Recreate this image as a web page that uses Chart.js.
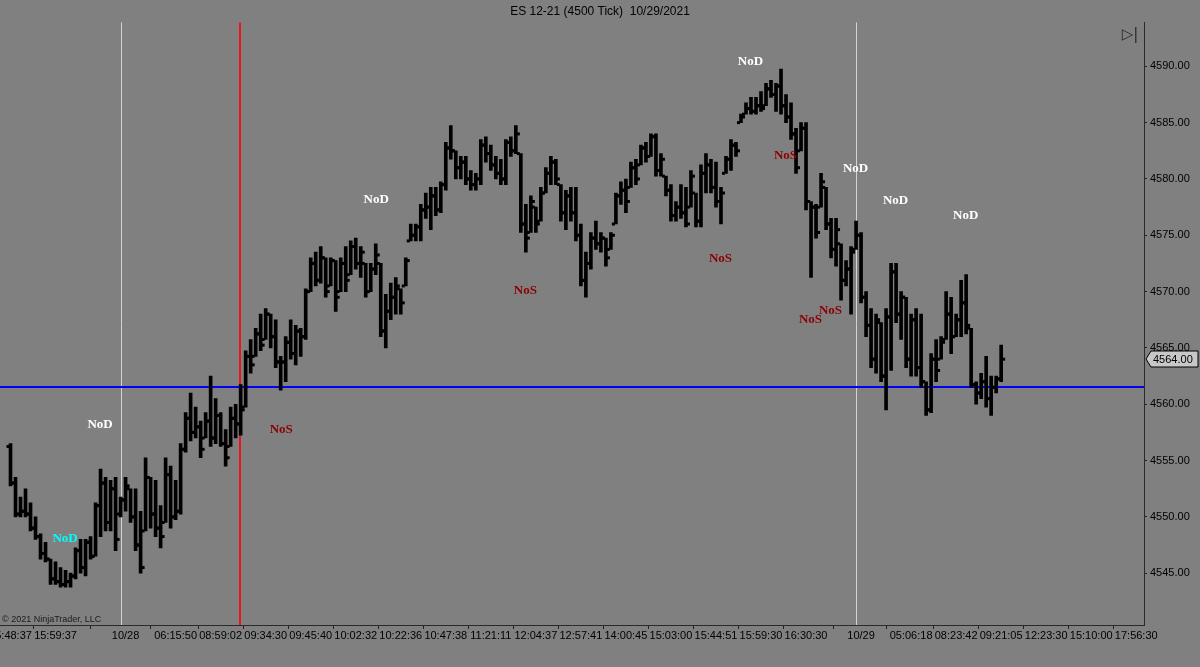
<!DOCTYPE html>
<html>
<head>
<meta charset="utf-8">
<title>ES 12-21 (4500 Tick)</title>
<script src="https://cdn.jsdelivr.net/npm/chart.js@4/dist/chart.umd.min.js"></script>
<style>
    html, body { margin: 0; padding: 0; background: #808080; }
    #wrap { width: 1200px; height: 667px; }
</style>
</head>
<body>
<div id="wrap"><canvas id="esChart" width="1200" height="667"></canvas></div>
<script>
// OHLC bars, one per 4500 ticks
const highs = [
    4556.5, 4553.5, 4551.75, 4552.5, 4551.25, 4550, 4548.5, 4547.75, 4546.25, 4546,
    4545.5, 4545.25, 4545, 4547.25, 4548, 4548, 4548.25, 4551.25, 4554.25, 4553.5,
    4553.25, 4553.5, 4551.75, 4553.5, 4552.5, 4552.5, 4550.5, 4555.25, 4553.5, 4553.25,
    4551, 4555.25, 4554.5, 4553.25, 4556.5, 4559.25, 4561, 4559.75, 4558.5, 4559.25,
    4562.5, 4560.5, 4559.25, 4557.75, 4559.75, 4560, 4561.75, 4564.75, 4565.75, 4566.75,
    4568, 4568.5, 4568, 4567.5, 4564.25, 4566, 4567.5, 4567, 4566.75, 4570.25,
    4573, 4573.5, 4574, 4573, 4573, 4572.75, 4573, 4574, 4574.5, 4574.75,
    4574, 4572.5, 4572.5, 4574.25, 4572.5, 4569.75, 4570.75, 4571.25, 4570.25, 4573,
    4576, 4576, 4577.75, 4578.75, 4579.25, 4579.25, 4579.75, 4583.25, 4584.75, 4582.5,
    4582, 4582, 4580.75, 4580.5, 4583.5, 4583.75, 4583, 4582, 4581.75, 4583.5,
    4583.75, 4584.75, 4582.25, 4577.75, 4578.5, 4577.5, 4579.25, 4581, 4582, 4581.75,
    4579.5, 4579, 4579.25, 4579.25, 4576, 4573.5, 4575.25, 4576.25, 4575.25, 4574.75,
    4575.25, 4578.75, 4579.75, 4580, 4581.5, 4581.75, 4583, 4583.25, 4584, 4584,
    4582.25, 4580.25, 4579.5, 4578, 4579.5, 4579.25, 4580.75, 4578.75, 4581.25, 4582.25,
    4581.75, 4581.5, 4579.25, 4582, 4583.5, 4583.25, 4585.75, 4586.75, 4587.25, 4587.25,
    4587.75, 4588.5, 4588.75, 4588.5, 4589.75, 4587.5, 4586.75, 4584.5, 4585, 4585,
    4578, 4577.75, 4580.5, 4579.25, 4576.5, 4576.5, 4574.25, 4572.75, 4574, 4576.25,
    4575.25, 4570, 4568.5, 4568, 4567.25, 4568.5, 4572.5, 4572.5, 4570, 4569.5,
    4568, 4568.5, 4568, 4562, 4564.5, 4565.75, 4566, 4570, 4569.5, 4568,
    4571, 4571.5, 4566.75, 4562, 4562.75, 4564.25, 4562.5, 4562.5, 4565.25
];
const lows = [
    4552.75, 4550, 4550, 4550, 4548.75, 4548, 4546.25, 4546, 4544, 4544,
    4543.75, 4543.75, 4543.75, 4544.5, 4545, 4544.75, 4546.25, 4546.5, 4548.25, 4548.75,
    4548.75, 4547, 4550, 4550.5, 4549.5, 4547, 4545, 4548.75, 4549, 4548.25,
    4547.25, 4549.5, 4549, 4549.75, 4550.25, 4555.75, 4556.75, 4557, 4555.25, 4557,
    4556.25, 4556.5, 4556.25, 4554.5, 4556.25, 4557, 4557.25, 4559.75, 4562.75, 4564.25,
    4564.75, 4565.75, 4565, 4563.25, 4561.25, 4562, 4564, 4563.5, 4564.25, 4565.75,
    4570, 4570.5, 4570.75, 4569.5, 4570.5, 4568.25, 4570, 4570, 4571.5, 4572,
    4571.25, 4569.5, 4570, 4571.5, 4566, 4565, 4567.5, 4568, 4568, 4570.5,
    4574.5, 4574.5, 4574.5, 4576.5, 4575.5, 4576.75, 4577, 4579, 4581.75, 4580,
    4580, 4579.5, 4579, 4579, 4579.5, 4581.5, 4580.75, 4580, 4579.5, 4579.5,
    4582, 4582.25, 4575.25, 4573.5, 4575.25, 4575.25, 4576.25, 4578.75, 4579.5, 4579.5,
    4576.25, 4575.5, 4576.25, 4574.5, 4570.5, 4569.5, 4572, 4573.75, 4573.5, 4572.25,
    4573.75, 4576, 4577.75, 4577, 4579.25, 4579.5, 4581.25, 4581.5, 4582, 4580.25,
    4580.25, 4578.5, 4576.25, 4576.25, 4576.5, 4575.75, 4577.5, 4575.75, 4575.75, 4578.75,
    4578.75, 4577.5, 4576, 4580.5, 4580.75, 4582, 4585, 4585.75, 4585.75, 4585.75,
    4586, 4586.5, 4587.25, 4586, 4585.75, 4585, 4583.5, 4580.5, 4582.5, 4577.25,
    4571.25, 4574.75, 4577.5, 4575.5, 4573, 4572.25, 4569.25, 4570.5, 4568, 4573.75,
    4569, 4566, 4563.25, 4562.75, 4562, 4559.5, 4563, 4567.25, 4565.75, 4563.25,
    4562.5, 4562.5, 4561.5, 4559, 4559.25, 4562, 4564, 4565.75, 4564.5, 4566,
    4566, 4566.25, 4561.5, 4560, 4560.5, 4559.75, 4559, 4561, 4562
];
const opens = [
    4556.25, 4553, 4550.25, 4550.5, 4550.25, 4549, 4548.25, 4546.75, 4546.25, 4544.5,
    4544.25, 4544, 4544.25, 4544.75, 4547, 4545.5, 4547.75, 4546.5, 4551, 4553,
    4549.5, 4552.5, 4550.25, 4551.5, 4552.5, 4550, 4547.5, 4548.75, 4553.5, 4550.25,
    4549, 4549.5, 4553.75, 4550, 4550.5, 4556, 4558.75, 4557.5, 4558, 4557,
    4558.5, 4557, 4559, 4556.5, 4556.25, 4558.75, 4558.25, 4559.75, 4564.25, 4564.25,
    4566.25, 4565.75, 4568, 4566, 4563.75, 4563.75, 4565.5, 4564.5, 4566.5, 4566,
    4570, 4572.5, 4571, 4573, 4570.5, 4572.75, 4570, 4572.5, 4571.5, 4574,
    4572.5, 4572.5, 4570, 4572, 4572.5, 4566.5, 4568.25, 4569.5, 4570.25, 4570.5,
    4574.5, 4575, 4575.75, 4577.25, 4577.5, 4578.5, 4577.25, 4579.5, 4582.75, 4582.5,
    4581, 4581.5, 4580, 4579.5, 4580, 4583, 4582.25, 4581.25, 4580.5, 4580,
    4583.25, 4582.5, 4582.25, 4576, 4575.25, 4577.5, 4576.25, 4578.75, 4580.5, 4581.5,
    4579.5, 4577, 4578.5, 4577, 4575, 4571, 4572.5, 4574.75, 4574.25, 4574.75,
    4573.75, 4576, 4578.5, 4579, 4579.25, 4581, 4581.25, 4582.75, 4582, 4583.75,
    4580.75, 4580.25, 4579, 4576.75, 4577.5, 4577, 4577.5, 4578.75, 4576.25, 4580.5,
    4581.25, 4579.25, 4578, 4580.5, 4581.75, 4583, 4585, 4585.75, 4586.25, 4586,
    4586.5, 4586.5, 4588, 4587.5, 4588.25, 4586.5, 4585.5, 4584, 4582.5, 4584.5,
    4578, 4577.5, 4577.5, 4579.25, 4576, 4573.75, 4574.25, 4571, 4572, 4573.75,
    4575, 4569.5, 4567, 4564, 4567.25, 4562.5, 4567.75, 4571.75, 4568, 4569.5,
    4564, 4567.5, 4563.25, 4562, 4559.5, 4564, 4564, 4565.75, 4568, 4566,
    4567.5, 4569, 4566.75, 4561.75, 4561, 4562, 4560.5, 4561.5, 4562.25
];
const closes = [
    4553, 4550.25, 4550.5, 4550.25, 4549, 4548.25, 4546.75, 4546.25, 4544.5, 4544.25,
    4544, 4544.25, 4544.75, 4547, 4545.5, 4547.75, 4546.5, 4551, 4553, 4549.5,
    4552.5, 4548, 4551.5, 4552.75, 4550, 4547.5, 4545.5, 4553.5, 4550.25, 4549,
    4548.25, 4553.75, 4550, 4550.5, 4556, 4558.75, 4557.5, 4558, 4556, 4558.5,
    4557, 4559, 4556.5, 4555.25, 4558.75, 4558.25, 4559.5, 4564.25, 4563.5, 4566.25,
    4565.25, 4568, 4566, 4563.75, 4563.75, 4565.5, 4564.5, 4566.5, 4566, 4570,
    4572.5, 4571, 4573, 4570, 4572.75, 4569.5, 4572.5, 4571, 4574, 4572.5,
    4573.5, 4570, 4572, 4573.25, 4566.5, 4568.25, 4569.5, 4570.5, 4569, 4572.75,
    4575, 4575.75, 4577.25, 4577.5, 4578.5, 4577.25, 4579.5, 4582.75, 4582.5, 4581,
    4581.5, 4580, 4579.5, 4580, 4583, 4582.25, 4581.25, 4580.5, 4580, 4583.25,
    4582.5, 4584, 4576, 4574.75, 4578, 4576, 4578.75, 4580.5, 4581.5, 4580,
    4577, 4578.5, 4577, 4575, 4571, 4572.5, 4574.75, 4574.25, 4574.75, 4573,
    4575, 4578.5, 4579, 4578, 4581, 4580, 4582.75, 4582, 4583.75, 4580.75,
    4581.75, 4579, 4576.75, 4577.5, 4577, 4576, 4580.25, 4576.25, 4580.5, 4581.25,
    4579.25, 4578, 4578.75, 4581.75, 4583, 4582.5, 4585.5, 4586.25, 4586, 4586.5,
    4586.25, 4588, 4587.5, 4588.25, 4586.5, 4585.5, 4584, 4581, 4584.5, 4578,
    4577.5, 4575.25, 4579.75, 4576, 4573.75, 4575.5, 4571, 4572, 4573.5, 4575,
    4569.5, 4567, 4564, 4567.5, 4562.5, 4567.75, 4571.75, 4568, 4569.5, 4564,
    4567.5, 4563.25, 4562, 4559.5, 4564, 4563, 4565.5, 4568, 4566, 4567.5,
    4569, 4567, 4561.75, 4561, 4562, 4560.5, 4561.5, 4562.25, 4564
];

// time axis: bar index of each label and its text
const timeTickIdx = [0, 9, 23, 33, 42, 51, 60, 69, 78, 87, 96, 105, 114, 123, 132, 141, 150, 159, 170, 180, 189, 198, 207, 216, 225];
const timeTickLabels = ["15:48:37", "15:59:37", "10/28", "06:15:50", "08:59:02", "09:34:30", "09:45:40", "10:02:32",
    "10:22:36", "10:47:38", "11:21:11", "12:04:37", "12:57:41", "14:00:45", "15:03:00", "15:44:51", "15:59:30",
    "16:30:30", "10/29", "05:06:18", "08:23:42", "09:21:05", "12:23:30", "15:10:00", "17:56:30"];
const priceTicks = [4545, 4550, 4555, 4560, 4565, 4570, 4575, 4580, 4585, 4590];

// session breaks (gray), marker line (red), level (blue)
const sessionBreaks = [22.08, 169.0];
const redLineAt = 45.87;
const blueLevel = 4561.5;

// NoD / NoS labels: bar index, price, text
const noteIdx = [10.9, 17.9, 54.1, 73.1, 102.9, 141.9, 147.9, 154.9, 168.9, 163.9, 159.9, 176.9, 190.9];
const notePrice = [4548.1, 4558.2, 4557.7, 4578.2, 4570.1, 4572.9, 4590.4, 4582.1, 4580.9, 4568.3, 4567.5, 4578.1, 4576.7];
const noteText = ["NoD", "NoD", "NoS", "NoD", "NoS", "NoS", "NoD", "NoS", "NoD", "NoS", "NoS", "NoD", "NoD"];
const noteColor = ["#00ffff", "#ffffff", "#8b0000", "#ffffff", "#8b0000", "#8b0000", "#ffffff", "#8b0000", "#ffffff", "#8b0000", "#8b0000", "#ffffff", "#ffffff"];

const lastPrice = closes[closes.length - 1];

document.addEventListener("DOMContentLoaded", function () {
    const ctx = document.getElementById("esChart").getContext("2d");
    const FONT = "'Liberation Sans', Arial, sans-serif";

    // gray background for the whole canvas
    const bgPlugin = {
        id: "bg",
        beforeDraw(chart) {
            const c = chart.ctx;
            c.save();
            c.fillStyle = "#808080";
            c.fillRect(0, 0, chart.width, chart.height);
            c.restore();
        }
    };

    // vertical session lines, red marker and blue level
    const linesPlugin = {
        id: "lines",
        beforeDatasetsDraw(chart) {
            const c = chart.ctx;
            const xs = chart.scales.x, ys = chart.scales.y;
            const a = chart.chartArea;
            c.save();
            c.strokeStyle = "#d4d4d4";
            c.lineWidth = 1;
            sessionBreaks.forEach(v => {
                const px = Math.round(xs.getPixelForValue(v)) + 0.5;
                c.beginPath();
                c.moveTo(px, a.top);
                c.lineTo(px, a.bottom);
                c.stroke();
            });
            const by = Math.round(ys.getPixelForValue(blueLevel));
            c.strokeStyle = "#0000ff";
            c.lineWidth = 2;
            c.beginPath();
            c.moveTo(a.left, by);
            c.lineTo(a.right, by);
            c.stroke();
            const rx = Math.round(xs.getPixelForValue(redLineAt));
            c.strokeStyle = "#e8151b";
            c.lineWidth = 2;
            c.beginPath();
            c.moveTo(rx, a.top);
            c.lineTo(rx, a.bottom);
            c.stroke();
            c.restore();
        }
    };

    // open tick on the left, close tick on the right of each bar
    const ohlcPlugin = {
        id: "ohlcTicks",
        afterDatasetsDraw(chart) {
            const c = chart.ctx;
            const xs = chart.scales.x, ys = chart.scales.y;
            c.save();
            c.fillStyle = "#000";
            for (let i = 0; i < opens.length; i++) {
                const px = xs.getPixelForValue(i);
                const yo = ys.getPixelForValue(opens[i]);
                const yc = ys.getPixelForValue(closes[i]);
                c.fillRect(px - 4, yo - 1.5, 3, 3);
                c.fillRect(px + 1, yc - 1.5, 3, 3);
            }
            c.restore();
        }
    };

    // NoD / NoS text and other chart furniture
    const notesPlugin = {
        id: "notes",
        afterDraw(chart) {
            const c = chart.ctx;
            const xs = chart.scales.x, ys = chart.scales.y;
            const a = chart.chartArea;
            c.save();
            c.font = "bold 13px 'Liberation Serif', 'Times New Roman', serif";
            c.textAlign = "center";
            c.textBaseline = "middle";
            noteText.forEach((t, i) => {
                c.fillStyle = noteColor[i];
                c.fillText(t, xs.getPixelForValue(noteIdx[i]), ys.getPixelForValue(notePrice[i]));
            });

            // copyright
            c.font = "9px " + FONT;
            c.textAlign = "left";
            c.textBaseline = "bottom";
            c.fillStyle = "#1a1a1a";
            c.fillText("\u00a9 2021 NinjaTrader, LLC", a.left + 2, a.bottom - 1);

            // scroll icon top right
            c.font = "15px 'DejaVu Sans', sans-serif";
            c.textAlign = "center";
            c.textBaseline = "middle";
            c.fillStyle = "#2a2a2a";
            c.fillText("\u25b7|", a.right - 14, a.top + 13);

            // last price marker on the axis
            const ly = Math.round(ys.getPixelForValue(lastPrice));
            const bx = a.right + 2;
            c.beginPath();
            c.moveTo(bx, ly);
            c.lineTo(bx + 5, ly - 8);
            c.lineTo(bx + 52, ly - 8);
            c.lineTo(bx + 52, ly + 8);
            c.lineTo(bx + 5, ly + 8);
            c.closePath();
            c.fillStyle = "#c8c8c8";
            c.fill();
            c.strokeStyle = "#000";
            c.lineWidth = 1;
            c.stroke();
            c.font = "11px " + FONT;
            c.fillStyle = "#000";
            c.textAlign = "left";
            c.fillText(lastPrice.toFixed(2), bx + 7, ly + 1);
            c.restore();
        }
    };

    const barData = highs.map((h, i) => ({ x: i, y: [lows[i], h] }));

    new Chart(ctx, {
        type: "bar",
        data: {
            datasets: [{
                label: "ES 12-21",
                data: barData,
                backgroundColor: "#000",
                borderWidth: 0,
                barThickness: 3,
                grouped: false
            }]
        },
        options: {
            responsive: false,
            animation: false,
            devicePixelRatio: 1,
            layout: { padding: 0 },
            plugins: {
                legend: { display: false },
                tooltip: { enabled: false },
                title: {
                    display: true,
                    text: "ES 12-21 (4500 Tick)  10/29/2021",
                    color: "#000",
                    font: { family: FONT, size: 12, weight: "normal" },
                    padding: { top: 4, bottom: 4 }
                }
            },
            scales: {
                x: {
                    type: "linear",
                    min: -2.1,
                    max: 226.55,
                    offset: false,
                    afterBuildTicks: (scale) => {
                        scale.ticks = timeTickIdx.map(v => ({ value: v }));
                    },
                    afterFit: (scale) => {
                        scale.height = 42;
                        scale.paddingLeft = 0;
                        scale.paddingRight = 0;
                    },
                    ticks: {
                        autoSkip: false,
                        maxRotation: 0,
                        minRotation: 0,
                        padding: 0,
                        color: "#000",
                        font: { family: FONT, size: 11 },
                        callback: (value, index) => timeTickLabels[index]
                    },
                    grid: { drawOnChartArea: false, drawTicks: true, tickLength: 4, color: "#222" },
                    border: { color: "#2a2a2a" }
                },
                y: {
                    position: "right",
                    min: 4540.4,
                    max: 4593.9,
                    afterBuildTicks: (scale) => {
                        scale.ticks = priceTicks.map(v => ({ value: v }));
                    },
                    afterFit: (scale) => {
                        scale.width = 56;
                        scale.paddingTop = 0;
                        scale.paddingBottom = 0;
                    },
                    ticks: {
                        padding: 3,
                        color: "#000",
                        font: { family: FONT, size: 11 },
                        callback: (value) => Number(value).toFixed(2)
                    },
                    grid: { drawOnChartArea: false, drawTicks: true, tickLength: 3, color: "#222" },
                    border: { color: "#2a2a2a" }
                }
            }
        },
        plugins: [bgPlugin, linesPlugin, ohlcPlugin, notesPlugin]
    });
});
</script>
</body>
</html>
